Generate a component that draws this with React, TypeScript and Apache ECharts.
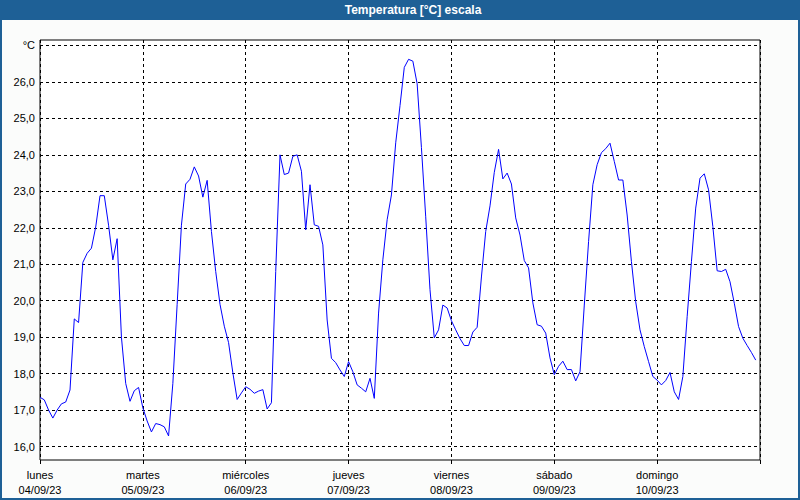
import React, { useEffect, useRef } from 'react';
import * as echarts from 'echarts';

const dayNames = ['lunes', 'martes', 'miércoles', 'jueves', 'viernes', 'sábado', 'domingo'];
const dayDates = ['04/09/23', '05/09/23', '06/09/23', '07/09/23', '08/09/23', '09/09/23', '10/09/23'];

// hourly temperatures (°C), one array per day
const day1 = [17.35, 17.28, 17.0, 16.78, 17.0, 17.17, 17.22, 17.55, 19.5, 19.4, 21.05, 21.3, 21.44, 22.02, 22.88, 22.88, 22.07, 21.12, 21.7, 19.0, 17.73, 17.24, 17.53, 17.62];
const day2 = [17.06, 16.7, 16.4, 16.63, 16.6, 16.54, 16.29, 17.73, 19.9, 22.07, 23.2, 23.33, 23.67, 23.42, 22.84, 23.3, 21.9, 20.8, 19.9, 19.3, 18.85, 18.02, 17.29, 17.47];
const day3 = [17.64, 17.57, 17.46, 17.52, 17.56, 17.03, 17.2, 20.8, 24.0, 23.46, 23.5, 23.96, 24.0, 23.55, 21.94, 23.18, 22.08, 22.04, 21.53, 19.47, 18.42, 18.3, 18.1, 17.92];
const day4 = [18.33, 18.05, 17.69, 17.6, 17.5, 17.87, 17.32, 19.66, 21.12, 22.22, 22.9, 24.33, 25.35, 26.4, 26.62, 26.57, 25.95, 24.2, 22.3, 20.3, 18.98, 19.2, 19.88, 19.8];
const day5 = [19.45, 19.2, 18.96, 18.77, 18.77, 19.14, 19.27, 20.65, 21.9, 22.6, 23.52, 24.15, 23.34, 23.5, 23.2, 22.27, 21.8, 21.1, 20.9, 19.94, 19.34, 19.3, 19.11, 18.43];
const day6 = [17.97, 18.2, 18.34, 18.11, 18.11, 17.8, 18.05, 19.88, 21.62, 23.18, 23.73, 24.06, 24.17, 24.32, 23.82, 23.31, 23.31, 22.35, 21.07, 19.97, 19.2, 18.74, 18.33, 17.92];
const day7 = [17.82, 17.69, 17.81, 18.03, 17.5, 17.29, 17.92, 19.56, 21.07, 22.54, 23.36, 23.48, 23.04, 22.03, 20.82, 20.8, 20.86, 20.52, 19.93, 19.29, 18.97, 18.77, 18.58, 18.37];

const yTicks = [16, 17, 18, 19, 20, 21, 22, 23, 24, 25, 26, 27];
const xTicks = [0, 24, 48, 72, 96, 120, 144, 168];

const titleText = 'Temperatura [°C] escala';
const unitLabel = '°C';

export default function App() {
  const ref = useRef<HTMLDivElement>(null);

  useEffect(() => {
    const chart = echarts.init(ref.current!, null, { renderer: 'svg' });
    const temps = [...day1, ...day2, ...day3, ...day4, ...day5, ...day6, ...day7];
    const data = temps.map((v, i) => [i, v]);
    const font = "'Liberation Sans', Arial, sans-serif";

    chart.setOption({
      animation: false,
      backgroundColor: '#fbfcfb',
      graphic: [
        {
          type: 'rect',
          shape: { x: 0, y: 0, width: 800, height: 20 },
          style: { fill: '#1e6096' },
          z: 10,
        },
        {
          type: 'text',
          x: 413,
          y: 10,
          style: {
            text: titleText,
            fill: '#ffffff',
            font: `bold 12px ${font}`,
            textAlign: 'center',
            textVerticalAlign: 'middle',
          },
          z: 11,
        },
        {
          type: 'rect',
          shape: { x: 1, y: 1, width: 798, height: 498 },
          style: { fill: 'none', stroke: '#1e6096', lineWidth: 2 },
          z: 10,
        },
      ],
      grid: {
        left: 40,
        top: 40,
        width: 720,
        height: 420,
        show: true,
        backgroundColor: '#ffffff',
        borderColor: '#000000',
        borderWidth: 1,
      },
      xAxis: {
        type: 'value',
        min: 0,
        max: 168,
        interval: 24,
        axisLine: { show: false },
        axisTick: { show: true, length: 4, lineStyle: { color: '#000' }, customValues: xTicks },
        splitLine: { show: true, lineStyle: { color: '#000', type: [3, 3], width: 1 } },
        axisLabel: {
          customValues: xTicks,
          margin: 7,
          fontSize: 11,
          lineHeight: 15,
          color: '#000',
          fontFamily: font,
          formatter: (val: number) => {
            const i = Math.round(val / 24);
            if (i >= 0 && i < dayNames.length) return `${dayNames[i]}\n${dayDates[i]}`;
            return '';
          },
        },
      },
      yAxis: {
        type: 'value',
        min: 15.63,
        max: 27.15,
        axisLine: { show: false },
        axisTick: { show: false, customValues: yTicks },
        splitLine: { show: true, lineStyle: { color: '#000', type: [3, 3], width: 1 } },
        axisLabel: {
          customValues: yTicks,
          margin: 5,
          fontSize: 11,
          color: '#000',
          fontFamily: font,
          formatter: (val: number) =>
            Math.round(val) === 27 ? unitLabel : val.toFixed(1).replace('.', ','),
        },
      },
      series: [
        {
          type: 'line',
          data,
          showSymbol: false,
          symbol: 'none',
          lineStyle: { color: '#0000ff', width: 1 },
          silent: true,
        },
      ],
    });

    return () => chart.dispose();
  }, []);

  return (
    <div
      ref={ref}
      style={{ position: 'absolute', left: 0, top: 0, width: 800, height: 500 }}
    />
  );
}
